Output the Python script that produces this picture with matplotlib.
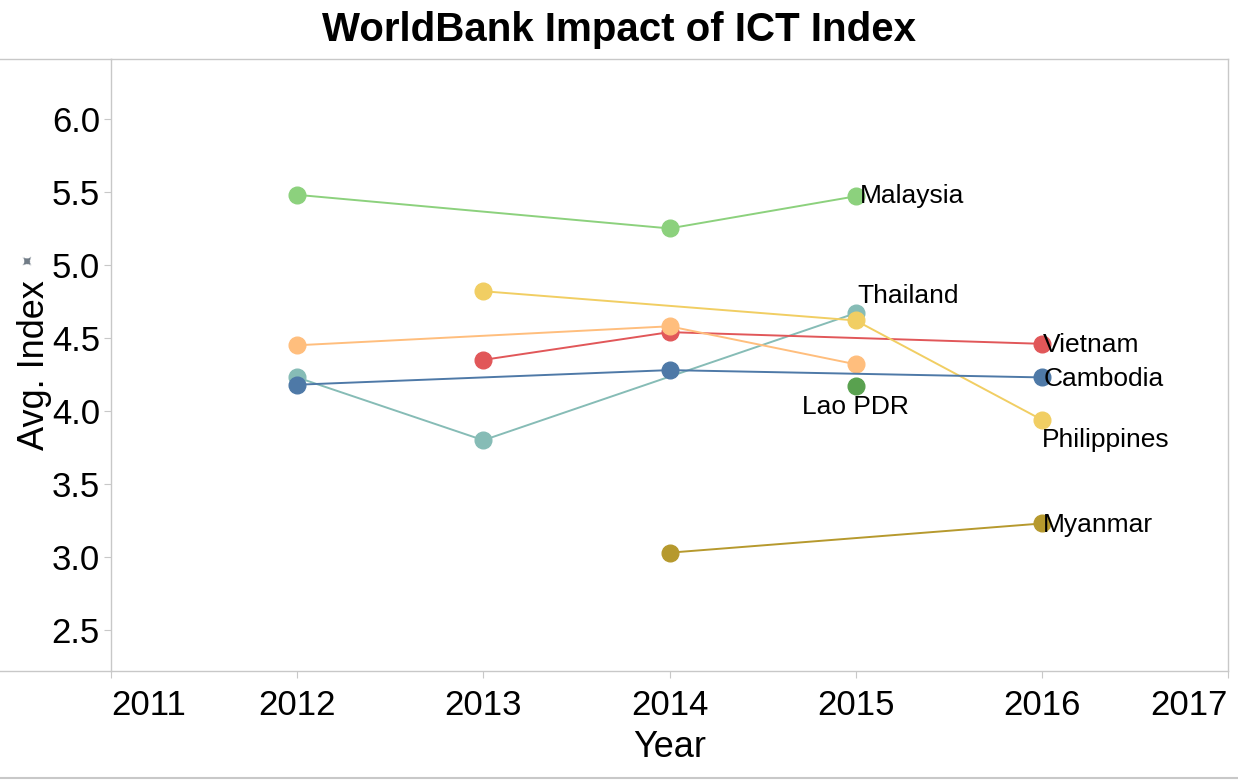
import matplotlib.pyplot as plt
from matplotlib.lines import Line2D

plt.rcParams['font.family'] = ['Liberation Sans', 'DejaVu Sans']

# data
malaysia_years = [2012, 2014, 2015]
malaysia_vals = [5.48, 5.25, 5.47]
thailand_years = [2012, 2013, 2015]
thailand_vals = [4.23, 3.80, 4.67]
vietnam_years = [2013, 2014, 2016]
vietnam_vals = [4.35, 4.54, 4.46]
indonesia_years = [2012, 2014, 2015]
indonesia_vals = [4.45, 4.58, 4.32]
philippines_years = [2013, 2015, 2016]
philippines_vals = [4.82, 4.62, 3.94]
cambodia_years = [2012, 2014, 2016]
cambodia_vals = [4.18, 4.28, 4.23]
lao_years = [2015]
lao_vals = [4.17]
myanmar_years = [2014, 2016]
myanmar_vals = [3.03, 3.23]

year_ticks = [2011, 2012, 2013, 2014, 2015, 2016, 2017]
index_ticks = [2.5, 3.0, 3.5, 4.0, 4.5, 5.0, 5.5, 6.0]

series = [
    ("Thailand", thailand_years, thailand_vals, "#86bcb6"),
    ("Vietnam", vietnam_years, vietnam_vals, "#e15759"),
    ("Indonesia", indonesia_years, indonesia_vals, "#ffbe7d"),
    ("Philippines", philippines_years, philippines_vals, "#f1ce63"),
    ("Cambodia", cambodia_years, cambodia_vals, "#4e79a7"),
    ("Malaysia", malaysia_years, malaysia_vals, "#8cd17d"),
    ("Lao PDR", lao_years, lao_vals, "#59a14f"),
    ("Myanmar", myanmar_years, myanmar_vals, "#b6992d"),
]

fig = plt.figure(figsize=(12.38, 7.81), dpi=100)
ax = fig.add_axes([111/1238, 1 - 671/781, (1228 - 111)/1238, (671 - 59)/781])

for name, xs, ys, col in series:
    ax.plot(xs, ys, color=col, lw=1.4, marker='o', ms=12, mec=col, zorder=2)

# end labels
lab = dict(fontsize=19, color='black')
ax.annotate("Malaysia", (malaysia_years[-1], malaysia_vals[-1]), xytext=(3, 0),
            textcoords='offset points', va='center', ha='left', **lab)
ax.annotate("Thailand", (thailand_years[-1], thailand_vals[-1]), xytext=(1, 4),
            textcoords='offset points', va='bottom', ha='left', **lab)
ax.annotate("Vietnam", (vietnam_years[-1], vietnam_vals[-1]), xytext=(1, -1),
            textcoords='offset points', va='center', ha='left', **lab)
ax.annotate("Cambodia", (cambodia_years[-1], cambodia_vals[-1]), xytext=(1, -1),
            textcoords='offset points', va='center', ha='left', **lab)
ax.annotate("Philippines", (philippines_years[-1], philippines_vals[-1]), xytext=(0, -6),
            textcoords='offset points', va='top', ha='left', **lab)
ax.annotate("Lao PDR", (lao_years[-1], lao_vals[-1]), xytext=(0, -6),
            textcoords='offset points', va='top', ha='center', **lab)
ax.annotate("Myanmar", (myanmar_years[-1], myanmar_vals[-1]), xytext=(1, -1),
            textcoords='offset points', va='center', ha='left', **lab)

ax.set_xlim(2011, 2017)
ax.set_ylim(2.22, 6.41)
ax.set_xticks(year_ticks)
ax.set_xticklabels([str(y) for y in year_ticks])
ax.set_yticks(index_ticks)
ax.set_yticklabels([f"{v:.1f}" for v in index_ticks])
ax.tick_params(axis='both', labelsize=25, colors='#c8c8c8', labelcolor='black', length=5, width=0.8)
ax.tick_params(axis='x', pad=8)
ax.tick_params(axis='y', pad=3)
xl = ax.get_xticklabels()
xl[0].set_ha('left')
xl[-1].set_ha('right')
for s in ax.spines.values():
    s.set_color('#c8c8c8')
    s.set_linewidth(1)

ax.set_xlabel("Year", fontsize=26, labelpad=6)
ax.set_ylabel("Avg. Index", fontsize=26, labelpad=0)

fig.text(0.5, 1 - 30/781, "WorldBank Impact of ICT Index", fontsize=29, fontweight='bold',
         ha='center', va='center')

# frame lines running out to the figure edge
fig.add_artist(Line2D([0, 111/1238], [1 - 59/781, 1 - 59/781], color='#c8c8c8', lw=1))
fig.add_artist(Line2D([0, 111/1238], [1 - 671/781, 1 - 671/781], color='#c8c8c8', lw=1))
fig.add_artist(Line2D([0, 1], [1 - 778/781, 1 - 778/781], color='#c8c8c8', lw=1.5))
fig.text(29/1238, 1 - 263/781, "\u2726", fontsize=12, color='#6f7a85', ha='center', va='center', rotation=45)

fig.savefig("out.png", dpi=100)
